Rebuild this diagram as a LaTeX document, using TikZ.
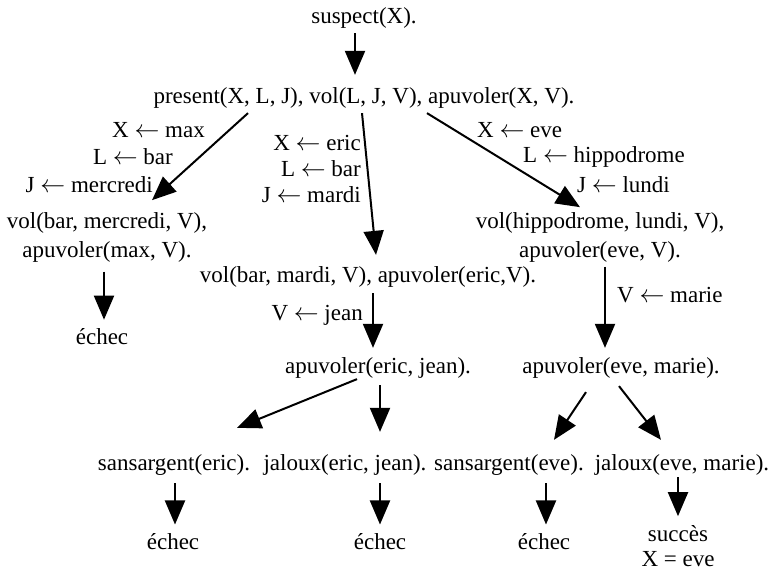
\documentclass[tikz,border=0pt]{standalone}
\usepackage{fontspec}
\setmainfont{Liberation Serif}
\usetikzlibrary{arrows.meta}

\newcommand{\subto}{\ensuremath{\leftarrow}}

\tikzset{
  terme/.style={inner sep=0pt},
  subst/.style={inner sep=0pt},
  fleche/.style={line width=2pt,-{Triangle[length=24pt,width=20pt]}},
}

\begin{document}
\begin{tikzpicture}[x=1pt,y=-1pt,font=\fontsize{23}{29}\selectfont]
  \useasboundingbox (0,0) rectangle (769,570);

  % buts
  \node[terme] (suspect) at (364,18) {suspect(X).};
  \node[terme] (present) at (364,98) {present(X, L, J), vol(L, J, V), apuvoler(X, V).};
  \node[terme,align=center] (volmax) at (107,237) {vol(bar, mercredi, V),\\apuvoler(max, V).};
  \node[terme] (volmardi) at (368,277) {vol(bar, mardi, V), apuvoler(eric,V).};
  \node[terme,align=center] (voleve) at (600,237) {vol(hippodrome, lundi, V),\\apuvoler(eve, V).};
  \node[terme] (apueric) at (378,368) {apuvoler(eric, jean).};
  \node[terme] (apueve) at (621,368) {apuvoler(eve, marie).};
  \node[terme] (sanseric) at (174,465) {sansargent(eric).};
  \node[terme] (jaleric) at (345,465) {jaloux(eric, jean).};
  \node[terme] (sanseve) at (509,465) {sansargent(eve).};
  \node[terme] (jaleve) at (682,465) {jaloux(eve, marie).};

  % feuilles
  \node[terme] (echecA) at (102,337) {échec};
  \node[terme] (echecB) at (173,542) {échec};
  \node[terme] (echecC) at (380,542) {échec};
  \node[terme] (echecD) at (544,542) {échec};
  \node[terme,align=center,font=\fontsize{23}{25}\selectfont] (succes) at (678,546) {succès\\X = eve};

  % substitutions
  \node[subst,anchor=east] (maxX) at (205,130) {X \subto{} max};
  \node[subst,anchor=east] (maxL) at (173,157) {L \subto{} bar};
  \node[subst,anchor=east] (maxJ) at (153,185) {J \subto{} mercredi};
  \node[subst,anchor=east,align=right,font=\fontsize{23}{26}\selectfont] (eric) at (361,169) {X \subto{} eric\\L \subto{} bar\\J \subto{} mardi};
  \node[subst,anchor=west] (eveX) at (477,130) {X \subto{} eve};
  \node[subst,anchor=west] (eveL) at (523,157) {L \subto{} hippodrome};
  \node[subst,anchor=west] (eveJ) at (577,185) {J \subto{} lundi};
  \node[subst,anchor=east] (jean) at (363,315) {V \subto{} jean};
  \node[subst,anchor=west] (marie) at (617,295) {V \subto{} marie};

  % arcs
  \foreach \a/\ax/\ay/\b/\bx/\by in {suspect/-9/4.5/present/-9/-12.5,
      present/-116/4.5/volmax/45/-11.7, present/-2/4.5/volmardi/8/-11.5,
      present/63/4.5/voleve/-20/-4.7, volmax/-3/9.6/echecA/2/-9,
      volmardi/5/5.5/apueric/-5/-9.5, voleve/5/4.6/apueve/-16/-9.5,
      apueric/-21/0.5/sanseric/63/-26.5, apueric/2/6.5/jaleric/35/-22.5,
      apueve/-35/13.5/sanseve/45/-14.5, apueve/-2/7.5/jaleve/-21/-14.5,
      sanseric/1/7.5/echecB/2/-9.2, jaleric/35/7.5/echecC/0/-9.2,
      sanseve/37/7.5/echecD/2/-9.2, jaleve/-4/1.5/succes/0/-9}
    \draw[fleche] ([shift={(\ax,\ay)}]\a.south) -- ([shift={(\bx,\by)}]\b.north);
\end{tikzpicture}
\end{document}
